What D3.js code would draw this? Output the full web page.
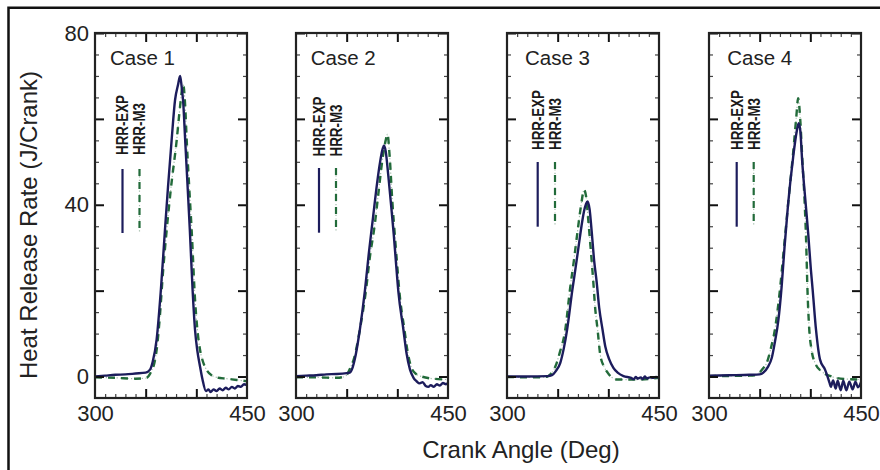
<!DOCTYPE html>
<html>
<head>
<meta charset="utf-8">
<script src="https://cdn.jsdelivr.net/npm/d3@7"></script>
<style>
  body { margin: 0; background: #fff; }
  svg { display: block; font-family: "Liberation Sans", Arial, sans-serif; }
</style>
</head>
<body>
<svg id="chart" width="880" height="470"></svg>
<script>
// ---- data ----
const cases = ["Case 1", "Case 2", "Case 3", "Case 4"];
const seriesNames = ["HRR-EXP", "HRR-M3"];
const xTickLabels = [300, 450];
const yTickLabels = [0, 40, 80];

// [crank angle, heat release rate]
const case1Exp = [[300,0],[310,0.2],[320,0.4],[330,0.5],[340,0.7],[350,0.9],[354.3,1.6],[357,3.5],[360.8,8.6],[365,20.2],[369,34],[372,44],[375.6,55],[379,64.4],[382,68],[384,70],[385.5,67.5],[387,64],[389,55],[391,46],[393.6,34],[396.3,20.2],[398.7,10.9],[401,6],[403.6,2.4],[406,-0.6],[409.5,-3.4],[412,-3.0],[414,-3.6],[417,-3.0],[420,-3.4],[423,-2.8],[426,-3.2],[429,-2.6],[432,-3.0],[435,-2.4],[438,-2.8],[441,-2.2],[444,-2.4],[447,-1.8],[450,-2.0]];
const case1M3 = [[300,-0.2],[320,-0.3],[340,-0.5],[350,-0.4],[354,0.5],[356,1.5],[358,2.6],[361,6.5],[364,14],[367,24],[370.7,34],[375,44],[380.6,55],[384,63],[387,68],[389,63],[390.5,55],[393,44],[395.4,34],[398.7,18],[401,11],[403.6,6.3],[406.5,3.5],[410,1.6],[415,0.3],[420,-0.2],[430,-0.5],[440,-0.8],[450,-1.1]];

const case2Exp = [[300,0.1],[310,0.2],[320,0.3],[330,0.5],[340,0.6],[350,0.8],[353,0.9],[356,2.2],[358,4],[363,10.9],[368,20],[372,29],[376,37],[380,45],[383,50],[385.5,53],[386.8,53.8],[388.5,52.5],[391,47],[393.4,41],[396.5,33],[398.5,27],[401,19.8],[406,10.9],[409,5.5],[412.5,1.6],[416,-0.3],[419,-1.1],[422,-1.6],[425,-1.3],[428,-2.2],[430.6,-2.4],[433,-2.0],[436,-2.4],[439,-1.8],[442,-2.1],[445,-1.5],[448,-1.8],[450,-1.5]];
const case2M3 = [[300,-0.2],[320,-0.2],[340,-0.3],[348,0],[350.5,0.5],[353.5,2],[357,4],[363,10.9],[369,20],[373,28],[377.5,35],[381,42],[385,50],[388.5,55],[390.3,56.4],[392.5,51],[395,41],[397.5,33],[399.5,27],[402,19.8],[407,10.9],[410,6],[414,2],[419,0.5],[424,0],[435,-0.5],[450,-0.7]];

const case3Exp = [[300,0],[320,0],[340,0.1],[344.4,0.3],[348,1.2],[352.6,3.2],[356,6.5],[359.3,10.9],[364.5,20.2],[367.5,25],[370.5,30],[373.5,35],[376,38.5],[378,40.2],[379.5,40.8],[381.5,39],[383.5,34],[386,27],[388.5,22],[391,16],[394.3,10.9],[397,7],[400.9,4],[405,2],[409.2,0.9],[415,0.1],[422.5,-0.3],[425,-0.6],[427,-0.1],[429,-0.5],[432,-0.2],[434,-0.6],[436,0],[438,-0.4],[441,-0.2],[444,-0.3],[447,-0.1],[450,-0.2]];
const case3M3 = [[300,-0.1],[330,-0.2],[340,0],[344,0.8],[348,2.5],[352,5.5],[357.5,10.9],[362,20],[366,27],[370,34.5],[373.5,40.5],[376,43.5],[378,42],[380,37],[382.5,30],[385,22.6],[387,16],[389.4,10.9],[392,5.1],[396,2.2],[399.3,0.9],[404,-0.3],[409,-0.7],[430,-0.7],[450,-0.3]];

const case4Exp = [[300,0.2],[320,0.3],[340,0.4],[350,0.5],[353.6,0.9],[358,2.2],[361.9,4.3],[365,8],[368.4,13],[371.7,21],[374.5,30],[378,40],[383,51],[386.5,57],[388.5,59],[390,57.5],[392,50],[395.5,40],[398,33],[400.5,25],[402.3,20.2],[405.6,10.9],[409.5,4],[414.5,1.6],[417,0],[419,-1.5],[420.2,-2.4],[422.5,-0.9],[425,-2.8],[427,-1.0],[430,-3.2],[432.5,-1.0],[435.5,-3.2],[438.5,-1.2],[441.8,-3.0],[444.5,-1.2],[447,-2.5],[450,-1.3]];
const case4M3 = [[300,0.1],[340,0.2],[345,0.3],[349.7,0.9],[353,1.8],[357,3.2],[361,6.5],[365,10.9],[370,20.2],[374,30],[378,40],[383,52],[386,60],[388,64.8],[390,60],[392,51],[394.5,40],[395.8,32],[397.2,20],[398.8,11.5],[401,6.5],[405,3],[411,1.2],[421,0],[435,-0.6],[450,-0.7]];

const expSeries = [case1Exp, case2Exp, case3Exp, case4Exp];
const m3Series = [case1M3, case2M3, case3M3, case4M3];

// ---- layout ----
const panels = [
  { left: 95,  caseDx: 15,   legX: [27.5, 44.5], legTextY: 155,   legLine: [169, 233] },
  { left: 296, caseDx: 14.7, legX: [23, 40],     legTextY: 156.5, legLine: [168, 232.7] },
  { left: 507, caseDx: 18,   legX: [30.7, 48],   legTextY: 150,   legLine: [162, 226.7] },
  { left: 709, caseDx: 18.3, legX: [27.7, 44.7], legTextY: 150,   legLine: [162, 226.7] }
];
const plotTop = 33, plotBottom = 398, plotW = 152;

const expColor = "#1c1c5c";
const m3Color = "#226b3a";
const dotColor = "#a3bdab";

const svg = d3.select("#chart");

// outer frame (runs off the right / bottom of the picture)
svg.append("path")
  .attr("d", "M8.5,470 V7.8 H880")
  .attr("fill", "none")
  .attr("stroke", "#111")
  .attr("stroke-width", 2.5);

const y = d3.scaleLinear().domain([-5, 80]).range([plotBottom, plotTop]);

const yMajor = [0, 20, 40, 60, 80];
const yMinor = d3.range(5, 80, 5).filter(v => v % 20 !== 0);
const xMajor = [350, 400];
const xMinor = d3.range(310, 450, 10).filter(v => v % 50 !== 0);

function styleTicks(sel, color, width) {
  sel.select(".domain").remove();
  sel.selectAll(".tick line").attr("stroke", color).attr("stroke-width", width);
}

panels.forEach((p, i) => {
  const x = d3.scaleLinear().domain([300, 450]).range([p.left, p.left + plotW]);
  const g = svg.append("g");

  const line = d3.line()
    .x(d => x(d[0]))
    .y(d => y(d[1]))
    .curve(d3.curveMonotoneX);

  // model curve: light dots under dark green dashes
  g.append("path").datum(m3Series[i]).attr("d", line)
    .attr("fill", "none").attr("stroke", dotColor)
    .attr("stroke-width", 1.2).attr("stroke-dasharray", "1.2,2.4");
  g.append("path").datum(m3Series[i]).attr("d", line)
    .attr("fill", "none").attr("stroke", m3Color)
    .attr("stroke-width", 2.4).attr("stroke-dasharray", "7,6");
  // experiment curve
  g.append("path").datum(expSeries[i]).attr("d", line)
    .attr("fill", "none").attr("stroke", expColor)
    .attr("stroke-width", 2.4).attr("stroke-linejoin", "round");

  // ticks, all pointing inward
  g.append("g").attr("transform", `translate(${p.left},0)`)
    .call(d3.axisLeft(y).tickValues(yMinor).tickSize(-4).tickFormat(""))
    .call(s => styleTicks(s, "#444", 1.2));
  g.append("g").attr("transform", `translate(${p.left + plotW},0)`)
    .call(d3.axisRight(y).tickValues(yMinor).tickSize(-4).tickFormat(""))
    .call(s => styleTicks(s, "#444", 1.2));
  g.append("g").attr("transform", `translate(${p.left},0)`)
    .call(d3.axisLeft(y).tickValues(yMajor).tickSize(-9).tickPadding(6)
      .tickFormat(d => (i === 0 && yTickLabels.includes(d)) ? d : ""))
    .call(s => styleTicks(s, "#111", 2))
    .call(s => s.selectAll("text").attr("font-size", 22).attr("fill", "#222")
      .attr("font-family", "'Liberation Sans', Arial, sans-serif"));
  g.append("g").attr("transform", `translate(${p.left + plotW},0)`)
    .call(d3.axisRight(y).tickValues(yMajor).tickSize(-9).tickFormat(""))
    .call(s => styleTicks(s, "#111", 2));

  g.append("g").attr("transform", `translate(0,${plotTop})`)
    .call(d3.axisTop(x).tickValues(xMinor).tickSize(-4).tickFormat(""))
    .call(s => styleTicks(s, "#444", 1.2));
  g.append("g").attr("transform", `translate(0,${plotTop})`)
    .call(d3.axisTop(x).tickValues(xMajor).tickSize(-9).tickFormat(""))
    .call(s => styleTicks(s, "#111", 2));
  g.append("g").attr("transform", `translate(0,${plotBottom})`)
    .call(d3.axisBottom(x).tickValues(xMinor).tickSize(-4).tickFormat(""))
    .call(s => styleTicks(s, "#444", 1.2));
  g.append("g").attr("transform", `translate(0,${plotBottom})`)
    .call(d3.axisBottom(x).tickValues(xMajor).tickSize(-9).tickFormat(""))
    .call(s => styleTicks(s, "#111", 2));
  g.append("g").attr("transform", `translate(0,${plotBottom})`)
    .call(d3.axisBottom(x).tickValues(xTickLabels).tickSize(0).tickPadding(7))
    .call(s => s.select(".domain").remove())
    .call(s => s.selectAll("text").attr("font-size", 22).attr("fill", "#222")
      .attr("font-family", "'Liberation Sans', Arial, sans-serif"));

  // plot frame
  g.append("rect")
    .attr("x", p.left).attr("y", plotTop)
    .attr("width", plotW).attr("height", plotBottom - plotTop)
    .attr("fill", "none").attr("stroke", "#222").attr("stroke-width", 2.2);

  // case label
  g.append("text")
    .attr("x", p.left + p.caseDx).attr("y", 65)
    .attr("font-size", 20.5).attr("fill", "#222")
    .text(cases[i]);

  // vertical legend
  seriesNames.forEach((name, j) => {
    const lx = p.left + p.legX[j];
    g.append("text")
      .attr("transform", `translate(${lx + 5.8},${p.legTextY}) rotate(-90)`)
      .attr("font-size", 16).attr("font-weight", "bold").attr("fill", "#1a1a1a")
      .attr("textLength", j === 0 ? 60 : 52).attr("lengthAdjust", "spacingAndGlyphs")
      .text(name);
    if (j === 0) {
      g.append("line").attr("x1", lx).attr("x2", lx)
        .attr("y1", p.legLine[0]).attr("y2", p.legLine[1])
        .attr("stroke", expColor).attr("stroke-width", 2.2);
    } else {
      g.append("line").attr("x1", lx).attr("x2", lx)
        .attr("y1", p.legLine[0]).attr("y2", p.legLine[1])
        .attr("stroke", dotColor).attr("stroke-width", 1.2).attr("stroke-dasharray", "1.2,2.4");
      g.append("line").attr("x1", lx).attr("x2", lx)
        .attr("y1", p.legLine[0]).attr("y2", p.legLine[1])
        .attr("stroke", m3Color).attr("stroke-width", 2.2).attr("stroke-dasharray", "7,6");
    }
  });
});

// axis titles
svg.append("text")
  .attr("transform", "translate(37,225) rotate(-90)")
  .attr("text-anchor", "middle").attr("font-size", 24).attr("fill", "#222")
  .text("Heat Release Rate (J/Crank)");
svg.append("text")
  .attr("x", 521).attr("y", 458)
  .attr("text-anchor", "middle").attr("font-size", 24).attr("fill", "#222")
  .text("Crank Angle (Deg)");
</script>
</body>
</html>
